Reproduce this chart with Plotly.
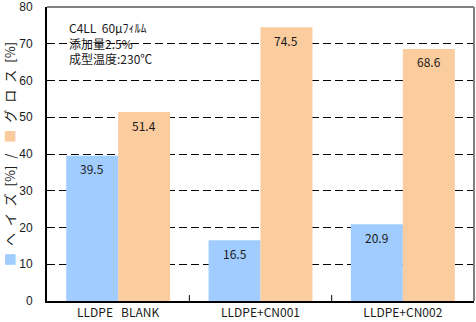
import plotly.graph_objects as go

categories = ["LLDPE\u00a0\u00a0\u00a0BLANK", "LLDPE+CN001", "LLDPE+CN002"]
haze = [39.5, 16.5, 20.9]
gloss = [51.4, 74.5, 68.6]
y_ticks = [0, 10, 20, 30, 40, 50, 60, 70, 80]

BLUE = "#A0CCFF"
ORANGE = "#FACC9E"
FONT = "Noto Sans CJK JP"
BARGAP = 0.27

fig = go.Figure()
fig.add_trace(go.Bar(x=categories, y=haze, marker=dict(color=BLUE, line=dict(width=0)),
                     showlegend=False))
fig.add_trace(go.Bar(x=categories, y=gloss, marker=dict(color=ORANGE, line=dict(width=0)),
                     showlegend=False))

half = (1 - BARGAP) / 4
for i, (h, g) in enumerate(zip(haze, gloss)):
    for val, off in ((h, -half), (g, half)):
        fig.add_annotation(x=i + off, y=val, xref="x", yref="y", text=f"{val:.1f}",
                           showarrow=False, yanchor="middle", yshift=-13,
                           font=dict(size=12, family=FONT, color="#1a1a1a"))

LS = "letter-spacing:7px"
title_txt = (f"<span style='color:{BLUE};{LS}'>■</span>"
             f"<span style='{LS}'>ヘイズ</span>[%]"
             f"<span style='letter-spacing:4px'> / </span>"
             f"<span style='color:{ORANGE};{LS}'>■</span>"
             f"<span style='{LS}'>グロス</span>[%]")

fig.update_layout(
    width=476, height=322,
    margin=dict(l=47, r=2, t=7, b=21, autoexpand=False),
    paper_bgcolor="white", plot_bgcolor="white",
    barmode="group", bargap=BARGAP, bargroupgap=0,
    font=dict(family=FONT, size=12, color="#1a1a1a"),
    xaxis=dict(showline=True, linecolor="black", linewidth=2, ticks="", showgrid=False,
               tickfont=dict(size=12, family=FONT), automargin=False, fixedrange=True),
    yaxis=dict(range=[0, 80], tickvals=y_ticks, showline=True, linecolor="black", linewidth=2,
               showgrid=True, gridcolor="black", gridwidth=1, griddash="8px,4px",
               ticks="", ticklabelstandoff=10, zeroline=False,
               tickfont=dict(size=12, family="Liberation Sans"), automargin=False,
               title=dict(text=title_txt, font=dict(size=13, family=FONT), standoff=22)),
)

fig.add_shape(type="line", xref="paper", yref="paper", x0=0, x1=1, y0=1, y1=1,
              line=dict(color="#808080", width=2), layer="above")
fig.add_shape(type="line", xref="paper", yref="paper", x0=1, x1=1, y0=0, y1=1,
              line=dict(color="#808080", width=2), layer="above")
for b in [0.5, 1.5]:
    fig.add_shape(type="line", xref="x", yref="paper", x0=b, x1=b, y0=0, y1=0.02,
                  line=dict(color="black", width=1), layer="above")

fig.add_annotation(xref="paper", yref="paper", x=0.047, y=0.967, xanchor="left", yanchor="top",
                   align="left", showarrow=False,
                   text="C4LL\u00a0\u00a060μﾌｨﾙﾑ<br>添加量2.5%<br>成型温度:230℃",
                   font=dict(size=12, family=FONT, color="#1a1a1a"))

fig.write_html("out.html")
